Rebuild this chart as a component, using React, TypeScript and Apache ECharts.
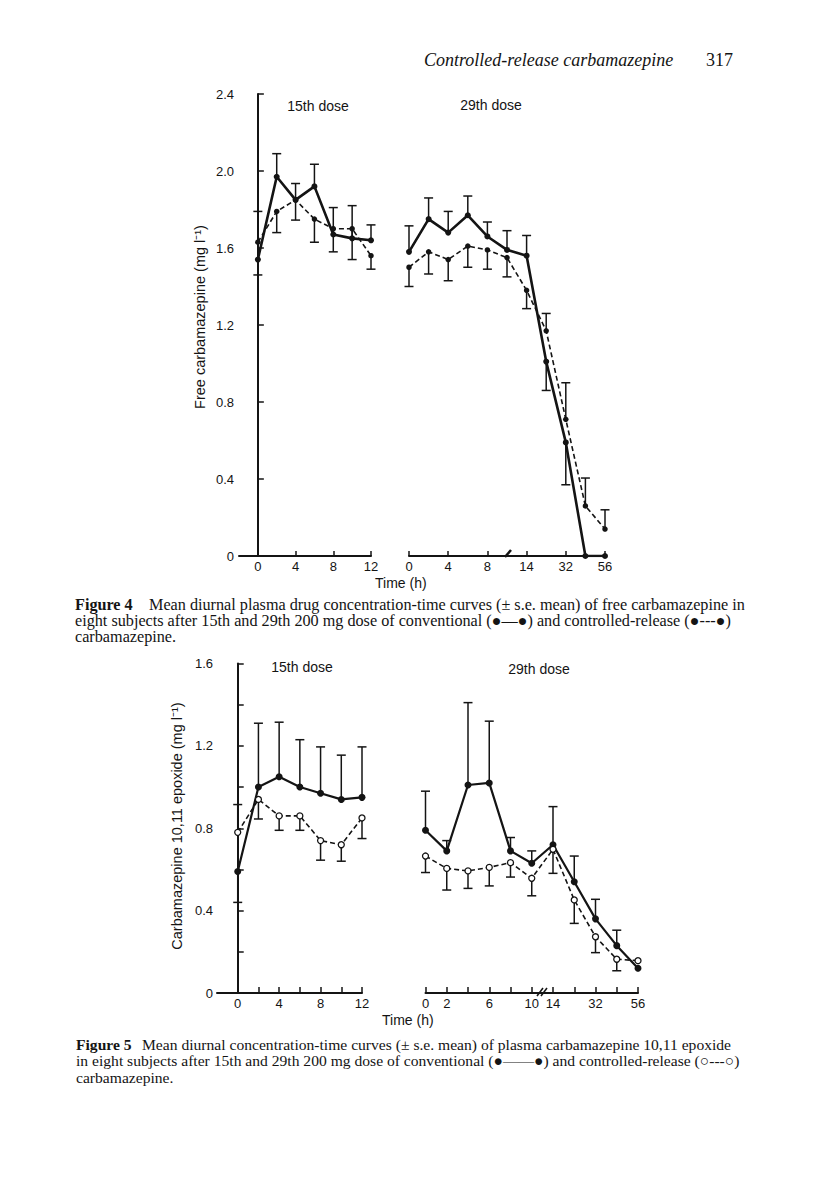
import React, { useEffect, useRef } from "react";
import * as echarts from "echarts";

// ---------- data ----------
const times15 = [0, 2, 4, 6, 8, 10, 12];
const times29 = [0, 2, 4, 6, 8, 10, 14, 24, 32, 48, 56];

// Figure 4: free carbamazepine (mg/l)
const f4Conv15 = [1.54, 1.97, 1.85, 1.92, 1.67, 1.65, 1.64];
const f4Conv15Err = [0.25, 0.12, 0.085, 0.115, 0.14, 0.17, 0.08];
const f4CR15 = [1.63, 1.79, 1.85, 1.75, 1.7, 1.7, 1.56];
const f4CR15Err = [-0.17, -0.11, -0.105, -0.12, -0.12, -0.16, -0.07];
const f4Conv29 = [1.58, 1.75, 1.68, 1.77, 1.66, 1.59, 1.56, 1.01, 0.59, 0, 0];
const f4Conv29Err = [0.135, 0.11, 0.11, 0.1, 0.075, 0.1, 0.105, -0.15, -0.22, 0, 0];
const f4CR29 = [1.5, 1.58, 1.54, 1.61, 1.59, 1.55, 1.38, 1.17, 0.71, 0.26, 0.14];
const f4CR29Err = [-0.1, -0.115, -0.11, -0.11, -0.1, -0.1, -0.095, 0.09, 0.19, 0.145, 0.1];

// Figure 5: carbamazepine 10,11 epoxide (mg/l)
const f5Conv15 = [0.59, 1.0, 1.05, 1.0, 0.97, 0.94, 0.95];
const f5Conv15Err = [-0.15, 0.31, 0.265, 0.23, 0.225, 0.215, 0.245];
const f5CR15 = [0.78, 0.94, 0.86, 0.86, 0.74, 0.72, 0.85];
const f5CR15Err = [0.135, -0.095, -0.07, -0.07, -0.095, -0.08, -0.1];
const f5Conv29 = [0.79, 0.69, 1.01, 1.02, 0.69, 0.63, 0.72, 0.54, 0.36, 0.23, 0.12];
const f5Conv29Err = [0.19, 0.05, 0.4, 0.3, 0.065, 0.06, 0.185, 0.125, 0.095, 0.075, 0];
const f5CR29 = [0.665, 0.605, 0.593, 0.61, 0.633, 0.557, 0.698, 0.452, 0.273, 0.164, 0.157];
const f5CR29Err = [-0.08, -0.105, -0.085, -0.09, -0.07, -0.085, -0.117, -0.114, -0.077, -0.056, 0];

// tick / label values
const f4LeftTicks = [0, 4, 8, 12];
const f4RightLabels = [0, 4, 8, 14, 32, 56];
const f5LeftTicks = [0, 2, 4, 6, 8, 10, 12];
const f5LeftLabels = [0, 4, 8, 12];
const f5RightLabels = [0, 2, 6, 10, 14, 32, 56];

const SANS = "'Liberation Sans', Arial, Helvetica, sans-serif";
const SERIF = "'Liberation Serif', 'Times New Roman', serif";
const INK = "#141414";

function errRender(params: any, api: any) {
  const x = api.value(0);
  const y = api.value(1);
  const e = api.value(2);
  if (!e) return null;
  const p0 = api.coord([x, y]);
  const p1 = api.coord([x, y + e]);
  const st = { stroke: INK, lineWidth: 1.5 };
  return {
    type: "group",
    children: [
      { type: "line", shape: { x1: p0[0], y1: p0[1], x2: p1[0], y2: p1[1] }, style: st },
      { type: "line", shape: { x1: p1[0] - 4.5, y1: p1[1], x2: p1[0] + 4.5, y2: p1[1] }, style: st },
    ],
  };
}

function pairs(xs: number[], ys: number[]) {
  return ys.map((y, i) => [xs[i], y]);
}
function errData(xs: number[], ys: number[], es: number[]) {
  return ys.map((y, i) => [xs[i], y, es[i]]);
}
function idx(n: number) {
  return Array.from({ length: n }, (_, i) => i);
}

export default function App() {
  const ref = useRef<HTMLDivElement>(null);

  useEffect(() => {
    document.body.style.margin = "0";
    const chart = echarts.init(ref.current!, null, { renderer: "svg" });

    const axisLine = { show: true, lineStyle: { color: INK, width: 2 } };
    const tickStyle = { color: INK, width: 1.5 };
    const lblStyle = { color: INK, fontSize: 13, fontFamily: SANS };

    const yFmt = (v: number) => (Math.abs(v) < 1e-9 ? "0" : v.toFixed(1));

    const solidLine = (xi: number, data: any[], size: number, w: number) => ({
      type: "line",
      xAxisIndex: xi,
      yAxisIndex: xi,
      data,
      symbol: "circle",
      symbolSize: size,
      lineStyle: { color: INK, width: w },
      itemStyle: { color: INK },
      z: 3,
    });
    const dashLine = (xi: number, data: any[], open: boolean) => ({
      type: "line",
      xAxisIndex: xi,
      yAxisIndex: xi,
      data,
      symbol: "circle",
      symbolSize: open ? 6 : 5.5,
      lineStyle: { color: INK, width: 1.6, type: [5, 3] },
      itemStyle: open ? { color: "#fff", borderColor: INK, borderWidth: 1.3 } : { color: INK },
      z: 4,
    });
    const errSeries = (xi: number, data: any[]) => ({
      type: "custom",
      xAxisIndex: xi,
      yAxisIndex: xi,
      data,
      renderItem: errRender,
      z: 2,
    });

    const i29 = idx(times29.length);
    const cap4 = { fontFamily: SERIF, fontSize: 16.2, fill: INK, verticalAlign: "middle" };
    const cap5 = { fontFamily: SERIF, fontSize: 15.6, fill: INK, verticalAlign: "middle" };

    chart.setOption({
      animation: false,
      backgroundColor: "#fff",
      grid: [
        { left: 239, top: 94, width: 132, height: 462 },
        { left: 409, top: 94, width: 196, height: 462 },
        { left: 217, top: 663.5, width: 145, height: 329.5 },
        { left: 425.5, top: 663.5, width: 212.5, height: 329.5 },
      ],
      xAxis: [
        {
          gridIndex: 0,
          type: "value",
          min: -2,
          max: 12,
          axisLine,
          splitLine: { show: false },
          axisTick: { inside: true, length: 5, lineStyle: tickStyle, customValues: f4LeftTicks },
          axisLabel: { ...lblStyle, margin: 4, customValues: f4LeftTicks },
        },
        {
          gridIndex: 1,
          type: "category",
          boundaryGap: false,
          data: times29.map(String),
          axisLine,
          splitLine: { show: false },
          axisTick: {
            inside: true,
            length: 5,
            lineStyle: tickStyle,
            interval: (i: number, v: string) => f4RightLabels.includes(Number(v)),
          },
          axisLabel: {
            ...lblStyle,
            margin: 4,
            interval: (i: number, v: string) => f4RightLabels.includes(Number(v)),
          },
        },
        {
          gridIndex: 2,
          type: "value",
          min: -2,
          max: 12,
          axisLine,
          splitLine: { show: false },
          axisTick: { inside: true, length: 6, lineStyle: tickStyle, customValues: f5LeftTicks },
          axisLabel: { ...lblStyle, margin: 4, customValues: f5LeftLabels },
        },
        {
          gridIndex: 3,
          type: "category",
          boundaryGap: false,
          data: times29.map(String),
          axisLine,
          splitLine: { show: false },
          axisTick: { inside: true, length: 6, lineStyle: tickStyle, interval: 0 },
          axisLabel: {
            ...lblStyle,
            margin: 4,
            interval: (i: number, v: string) => f5RightLabels.includes(Number(v)),
          },
        },
      ],
      yAxis: [
        {
          gridIndex: 0,
          type: "value",
          min: 0,
          max: 2.4,
          interval: 0.4,
          axisLine,
          splitLine: { show: false },
          axisTick: { inside: true, length: 6, lineStyle: tickStyle },
          axisLabel: { ...lblStyle, margin: 5, formatter: yFmt },
        },
        { gridIndex: 1, type: "value", min: 0, max: 2.4, show: false, splitLine: { show: false } },
        {
          gridIndex: 2,
          type: "value",
          min: 0,
          max: 1.6,
          interval: 0.2,
          axisLine,
          splitLine: { show: false },
          axisTick: { inside: true, length: 6, lineStyle: tickStyle },
          axisLabel: {
            ...lblStyle,
            margin: 4,
            formatter: (v: number) => (Math.round(v * 10) % 4 === 0 ? yFmt(v) : ""),
          },
        },
        { gridIndex: 3, type: "value", min: 0, max: 1.6, show: false, splitLine: { show: false } },
      ],
      series: [
        // Figure 4, 15th dose
        errSeries(0, errData(times15, f4Conv15, f4Conv15Err)),
        errSeries(0, errData(times15, f4CR15, f4CR15Err)),
        solidLine(0, pairs(times15, f4Conv15), 6, 2.6),
        dashLine(0, pairs(times15, f4CR15), false),
        // Figure 4, 29th dose
        errSeries(1, errData(i29, f4Conv29, f4Conv29Err)),
        errSeries(1, errData(i29, f4CR29, f4CR29Err)),
        solidLine(1, f4Conv29, 6, 2.6),
        dashLine(1, f4CR29, false),
        // Figure 5, 15th dose
        errSeries(2, errData(times15, f5Conv15, f5Conv15Err)),
        errSeries(2, errData(times15, f5CR15, f5CR15Err)),
        solidLine(2, pairs(times15, f5Conv15), 7, 2.2),
        dashLine(2, pairs(times15, f5CR15), true),
        // Figure 5, 29th dose
        errSeries(3, errData(i29, f5Conv29, f5Conv29Err)),
        errSeries(3, errData(i29, f5CR29, f5CR29Err)),
        solidLine(3, f5Conv29, 7, 2.2),
        dashLine(3, f5CR29, true),
      ],
      graphic: [
        // running head
        {
          type: "text",
          style: { text: "Controlled-release carbamazepine", x: 424, y: 60, fontFamily: SERIF, fontSize: 18, fontStyle: "italic", fill: INK, verticalAlign: "middle" },
        },
        {
          type: "text",
          style: { text: "317", x: 706, y: 60, fontFamily: SERIF, fontSize: 18, fill: INK, verticalAlign: "middle" },
        },
        // panel headings
        { type: "text", style: { text: "15th dose", x: 318, y: 106, align: "center", verticalAlign: "middle", fontFamily: SANS, fontSize: 14, fill: INK } },
        { type: "text", style: { text: "29th dose", x: 491, y: 105, align: "center", verticalAlign: "middle", fontFamily: SANS, fontSize: 14, fill: INK } },
        { type: "text", style: { text: "15th dose", x: 302, y: 667, align: "center", verticalAlign: "middle", fontFamily: SANS, fontSize: 14, fill: INK } },
        { type: "text", style: { text: "29th dose", x: 539, y: 669, align: "center", verticalAlign: "middle", fontFamily: SANS, fontSize: 14, fill: INK } },
        // axis titles
        { type: "text", style: { text: "Time (h)", x: 375, y: 583, verticalAlign: "middle", fontFamily: SANS, fontSize: 14, fill: INK } },
        { type: "text", style: { text: "Time (h)", x: 382, y: 1020, verticalAlign: "middle", fontFamily: SANS, fontSize: 14, fill: INK } },
        {
          type: "text",
          x: 200,
          y: 317,
          rotation: Math.PI / 2,
          style: { text: "Free carbamazepine (mg l\u207B\u00B9)", align: "center", verticalAlign: "middle", fontFamily: SANS, fontSize: 14.5, fill: INK },
        },
        {
          type: "text",
          x: 176.5,
          y: 826,
          rotation: Math.PI / 2,
          style: { text: "Carbamazepine 10,11 epoxide (mg l\u207B\u00B9)", align: "center", verticalAlign: "middle", fontFamily: SANS, fontSize: 14.5, fill: INK },
        },
        // axis break marks
        { type: "line", shape: { x1: 505, y1: 557, x2: 511, y2: 550 }, style: { stroke: INK, lineWidth: 2.5 }, z: 10 },
        { type: "line", shape: { x1: 537, y1: 996, x2: 543, y2: 988 }, style: { stroke: INK, lineWidth: 1.5 }, z: 10 },
        { type: "line", shape: { x1: 541, y1: 996, x2: 547, y2: 988 }, style: { stroke: INK, lineWidth: 1.5 }, z: 10 },
        // Figure 4 caption
        { type: "text", style: { ...cap4, text: "Figure 4", x: 75, y: 605, fontWeight: "bold" } },
        { type: "text", style: { ...cap4, text: "Mean diurnal plasma drug concentration-time curves (\u00B1 s.e. mean) of free carbamazepine in", x: 149, y: 605 } },
        { type: "text", style: { ...cap4, text: "eight subjects after 15th and 29th 200 mg dose of conventional (\u25CF\u2014\u25CF) and controlled-release (\u25CF---\u25CF)", x: 75, y: 621 } },
        { type: "text", style: { ...cap4, text: "carbamazepine.", x: 75, y: 637 } },
        // Figure 5 caption
        { type: "text", style: { ...cap5, text: "Figure 5", x: 76, y: 1044, fontWeight: "bold" } },
        { type: "text", style: { ...cap5, text: "Mean diurnal concentration-time curves (\u00B1 s.e. mean) of plasma carbamazepine 10,11 epoxide", x: 142, y: 1044 } },
        { type: "text", style: { ...cap5, text: "in eight subjects after 15th and 29th 200 mg dose of conventional (\u25CF\u2014\u2014\u25CF) and controlled-release (\u25CB---\u25CB)", x: 76, y: 1060.5 } },
        { type: "text", style: { ...cap5, text: "carbamazepine.", x: 76, y: 1077 } },
      ],
    });

    return () => chart.dispose();
  }, []);

  return (
    <div
      ref={ref}
      style={{ position: "absolute", left: 0, top: 0, width: 816, height: 1179, background: "#fff" }}
    />
  );
}
